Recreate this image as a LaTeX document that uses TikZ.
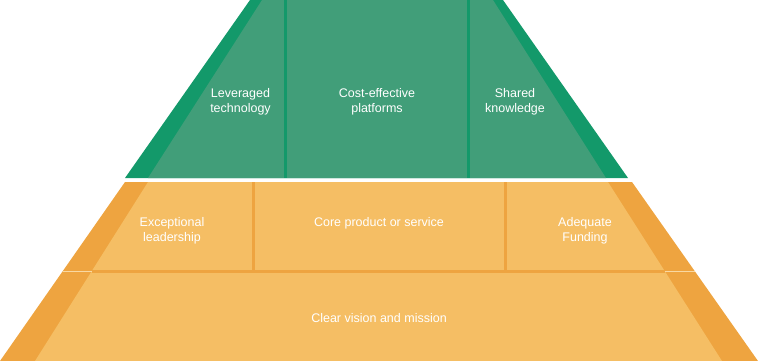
\documentclass[tikz,border=0pt]{standalone}
\usepackage{fontspec}
\setmainfont{Liberation Sans}
\usepackage{xcolor}
\definecolor{PyrGreenDark}{HTML}{13996A}
\definecolor{PyrGreen}{HTML}{419E79}
\definecolor{PyrAmberDark}{HTML}{EEA440}
\definecolor{PyrAmber}{HTML}{F5BE64}
\usepackage{tikz}
\usetikzlibrary{positioning}

\begin{document}
\begin{tikzpicture}[
  x=1pt,y=-1pt,
  tier/.style={text=white,align=center,font=\fontsize{12.5}{15}\selectfont},
  gsplit/.style={draw=PyrGreenDark,line width=2.5pt},
  asplit/.style={draw=PyrAmberDark,line width=3pt},
  seam/.style={draw=PyrAmber!60!white,line width=0.6pt}
]
  \useasboundingbox (0,0) rectangle (758,361);
  % top tier
  \fill[PyrGreenDark] (250,0) -- (503,0) -- (628,178) -- (125,178) -- cycle;
  \fill[PyrGreen] (262,0) -- (493,0) -- (606,178) -- (148,178) -- cycle;
  \draw[gsplit] (285.5,0) -- (285.5,178);
  \draw[gsplit] (468.5,0) -- (468.5,178);
  % base tiers
  \fill[PyrAmberDark] (125,182) -- (632,182) -- (758,361) -- (0,361) -- cycle;
  \fill[PyrAmber] (148,182) -- (608,182) -- (722,361) -- (35,361) -- cycle;
  \draw[asplit] (91.8,271) -- (664.7,271);
  \draw[asplit] (253,182) -- (253,271);
  \draw[asplit] (505,182) -- (505,271);
  \draw[seam] (62.8,271) -- (91.8,271);
  \draw[seam] (664.7,271) -- (694.6,271);

  \node[tier] (lev) at (240.5,102) {Leveraged\\technology};
  \node[tier] (cost) at (377,102) {Cost-effective\\platforms};
  \node[tier] (shared) at (515,102) {Shared\\knowledge};
  \node[tier] (lead) at (172,230.5) {Exceptional\\leadership};
  \node[tier] (core) at (379,223) {Core product or service};
  \node[tier] (fund) at (585,230.5) {Adequate\\Funding};
  \node[tier] (vision) at (379,318) {Clear vision and mission};
\end{tikzpicture}
\end{document}
